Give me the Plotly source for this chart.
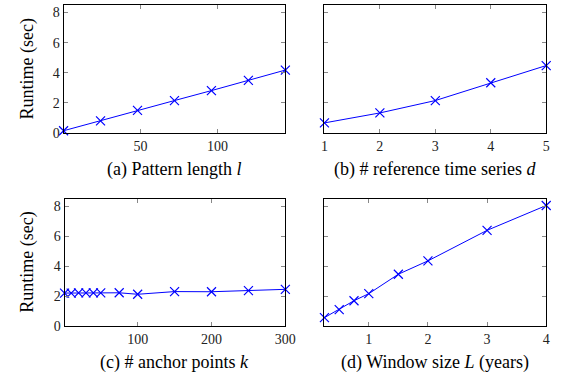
import plotly.graph_objects as go

# Data
a_x = [0, 24, 48, 72, 96, 120, 144]
a_y = [0.16, 0.81, 1.51, 2.16, 2.82, 3.50, 4.18]

b_x = [1, 2, 3, 4, 5]
b_y = [0.68, 1.34, 2.16, 3.34, 4.48]

c_x = [1, 10, 20, 30, 40, 50, 75, 100, 150, 200, 250, 300]
c_y = [2.20, 2.20, 2.21, 2.21, 2.21, 2.21, 2.22, 2.12, 2.30, 2.29, 2.36, 2.45]

d_x = [0.25, 0.5, 0.75, 1, 1.5, 2, 3, 4]
d_y = [0.56, 1.10, 1.69, 2.16, 3.46, 4.35, 6.39, 8.05]

captions = ["(a) Pattern length <i>l</i>",
            "(b) # reference time series <i>d</i>",
            "(c) # anchor points <i>k</i>",
            "(d) Window size <i>L</i> (years)"]
y_title = "Runtime (sec)"

W, H = 565, 382
FONT = "Liberation Serif"
BLUE = "#0000ff"

# panel boxes in pixels (left, right, top, bottom)
boxes = [(62, 289, 5, 136), (329, 556, 5, 136), (63, 289, 203, 333), (329, 556, 203, 333)]
xranges = [[0, 144], [1, 5], [1, 300], [0.25, 4]]
xticks = [[50, 100], [1, 2, 3, 4, 5], [100, 200, 300], [1, 2, 3, 4]]
series = [(a_x, a_y), (b_x, b_y), (c_x, c_y), (d_x, d_y)]

fig = go.Figure()
for i, ((l, r, t, b), (xs, ys)) in enumerate(zip(boxes, series)):
    n = "" if i == 0 else str(i + 1)
    fig.add_trace(go.Scatter(
        x=xs, y=ys, mode="lines+markers", xaxis="x" + n, yaxis="y" + n,
        line=dict(color=BLUE, width=1),
        marker=dict(symbol="x-thin", size=9, line=dict(color=BLUE, width=1.2), color=BLUE),
        showlegend=False, cliponaxis=False))
    common = dict(showline=True, linecolor="black", linewidth=1, mirror="allticks",
                  ticks="inside", ticklen=4, tickwidth=1, tickcolor="#888888",
                  showgrid=False, zeroline=False,
                  tickfont=dict(family=FONT, size=14, color="#222222"))
    fig.layout["xaxis" + n] = dict(domain=[l / W, r / W], anchor="y" + n,
                                   range=xranges[i], tickvals=xticks[i], **common)
    fig.layout["yaxis" + n] = dict(domain=[1 - b / H, 1 - t / H], anchor="x" + n,
                                   range=[0, 8.5], tickvals=[0, 2, 4, 6, 8],
                                   showticklabels=(i % 2 == 0), **common)
    fig.add_annotation(text=captions[i], xref="paper", yref="paper",
                       x=(l + r) / 2 / W, y=1 - (b + 37) / H, showarrow=False,
                       xanchor="center", yanchor="middle",
                       font=dict(family=FONT, size=18, color="black"))
    if i % 2 == 0:
        fig.add_annotation(text=y_title, xref="paper", yref="paper",
                           x=25 / W, y=1 - (t + b) / 2 / H, showarrow=False,
                           textangle=-90, xanchor="center", yanchor="middle",
                           font=dict(family=FONT, size=18, color="black"))

fig.update_layout(width=W, height=H, margin=dict(l=0, r=0, t=0, b=0),
                  plot_bgcolor="white", paper_bgcolor="white",
                  font=dict(family=FONT))
fig.write_html("out.html")
